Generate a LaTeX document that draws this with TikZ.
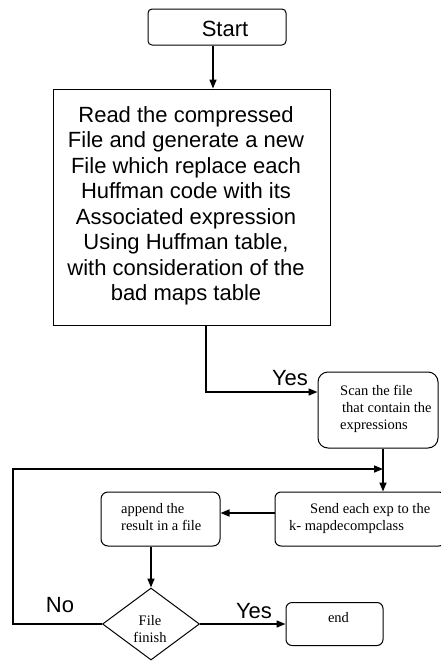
\documentclass[tikz,border=0pt]{standalone}
\usepackage{fontspec}
\setmainfont{Liberation Serif}
\newfontfamily\arialfont{Liberation Sans}
\usetikzlibrary{arrows.meta,shapes.geometric}
\newcommand\bigsans{\arialfont\fontsize{22}{25.5}\selectfont}
\newcommand\smallserif{\fontsize{14.5}{17}\selectfont}
\begin{document}
\begin{tikzpicture}[x=1pt,y=-1pt,
  shapebox/.style={draw,line width=1pt,inner sep=0pt},
  conn/.style={line width=1.6pt,-{Triangle[length=9pt,width=7pt]}},
  bigtxt/.style={font=\bigsans,inner sep=0pt},
  smalltxt/.style={font=\smallserif,inner sep=0pt}]
\useasboundingbox[fill=white] (0,0) rectangle (440,662);

% boxes
\node[shapebox,rounded corners=4pt,minimum width=138pt,minimum height=36pt] (start) at (217,27) {};
\node[shapebox,minimum width=277pt,minimum height=236pt] (read) at (191.5,207) {};
\node[shapebox,rounded corners=10pt,minimum width=120pt,minimum height=76pt] (scan) at (378,410) {};
\node[shapebox,rounded corners=6pt,minimum width=170pt,minimum height=54pt] (send) at (360,519) {};
\node[shapebox,rounded corners=7pt,minimum width=119pt,minimum height=54pt] (append) at (160.5,519) {};
\node[shapebox,diamond,minimum width=97pt,minimum height=72pt] (dec) at (151,624) {};
\node[shapebox,rounded corners=6pt,minimum width=97pt,minimum height=43pt] (stopbox) at (334.5,624) {};

% texts (base anchor of a multi-line node = baseline of its last line)
\node[bigtxt,anchor=base] (startt) at (225,36) {Start};
\node[bigtxt,anchor=base,align=center] (readt) at (186,300.5) {Read the compressed\\File and generate a new\\File which replace each\\Huffman code with its\\Associated expression\\Using Huffman table,\\with consideration of the\\bad maps table};
\node[smalltxt,anchor=base west,align=left] (scant) at (340,429) {Scan the file\\\hspace*{2pt}that contain the\\expressions};
\node[smalltxt,anchor=base west,align=left] (sendt) at (289,530) {\hspace*{21pt}Send each exp to the\\k- mapdecompclass};
\node[smalltxt,anchor=base west,align=left] (appendt) at (121,530) {append the\\result in a file};
\node[smalltxt,anchor=base,align=center] (dect) at (150,642) {File\\finish};
\node[smalltxt,anchor=base] (stopt) at (338.5,622) {end};

% labels
\node[bigtxt,anchor=base] (yesa) at (290,385) {Yes};
\node[bigtxt,anchor=base] (yesb) at (254,618) {Yes};
\node[bigtxt,anchor=base] (no) at (60,612) {No};

% connectors
\coordinate (join) at (383,469);
\coordinate (loopx) at (13,0);
\draw[conn] ([xshift=-4pt]start.south) -- ([xshift=-4pt]start.south |- read.north);
\draw[conn] ([xshift=14.5pt]read.south) |- ([yshift=18pt]scan.west);
\draw[conn] (scan.south -| join) -- (send.north -| join);
\draw[conn] (dec.west) -- (dec.west -| loopx) |- (join);
\draw[conn] ([yshift=6pt]send.west) -- ([yshift=6pt]send.west -| append.east);
\draw[conn] (append.south -| dec.north) -- (dec.north);
\draw[conn] (dec.east) -- (stopbox.west);
\end{tikzpicture}
\end{document}
